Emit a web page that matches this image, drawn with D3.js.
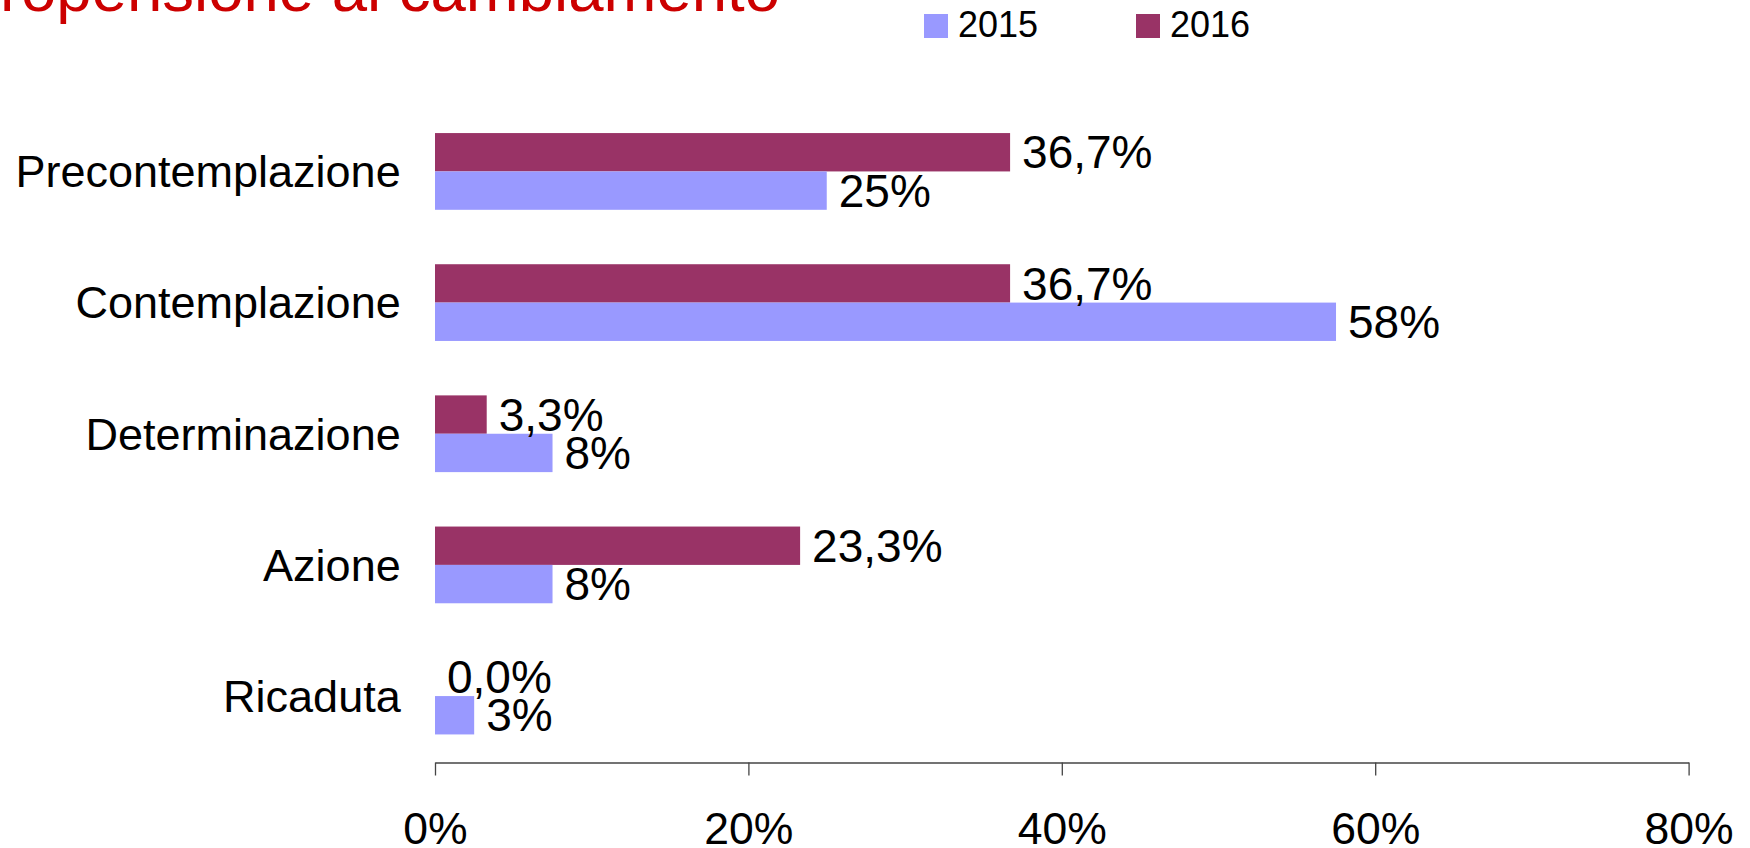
<!DOCTYPE html>
<html>
<head>
<meta charset="utf-8">
<script src="https://cdn.jsdelivr.net/npm/d3@7"></script>
<style>
  body { margin: 0; background: #fff; overflow: hidden; }
  text { font-family: "Liberation Sans", Arial, sans-serif; }
</style>
</head>
<body>
<script>
// data
var categories = ["Precontemplazione", "Contemplazione", "Determinazione", "Azione", "Ricaduta"];
var series = ["2016", "2015"];
var values2015 = [25, 57.5, 7.5, 7.5, 2.5];
var values2016 = [36.7, 36.7, 3.3, 23.3, 0];
var xTicks = [0, 20, 40, 60, 80];
var colors = { "2015": "#9999ff", "2016": "#993366" };

var w = 1750, h = 848;

var svg = d3.select("body").append("svg")
    .attr("width", w)
    .attr("height", h);

// title, cut off at the top left like the source
svg.append("text")
    .attr("x", 780)
    .attr("y", 11)
    .attr("text-anchor", "end")
    .style("font-size", "63.5px")
    .style("fill", "#cc0000")
    .text("Propensione al cambiamento");

var x = d3.scaleLinear()
    .domain([0, 80])
    .range([435, 1688.6]);

var y = d3.scaleBand()
    .domain(categories)
    .range([105, 762.5])
    .paddingInner(0.415)
    .paddingOuter(0.214);

var ySub = d3.scaleBand()
    .domain(series)
    .range([0, y.bandwidth()]);

var rows = categories.map(function (c, i) {
    return { cat: c, "2015": values2015[i], "2016": values2016[i] };
});

var g = svg.selectAll("g.cat")
    .data(rows)
    .enter()
    .append("g")
    .attr("class", "cat")
    .attr("transform", function (d) { return "translate(0," + y(d.cat) + ")"; });

g.selectAll("rect")
    .data(function (d) { return series.map(function (s) { return { s: s, v: d[s] }; }); })
    .enter()
    .append("rect")
    .attr("x", x(0))
    .attr("y", function (d) { return ySub(d.s); })
    .attr("width", function (d) { return x(d.v) - x(0); })
    .attr("height", ySub.bandwidth())
    .attr("fill", function (d) { return colors[d.s]; });

function fmt(d) {
    if (d.s == "2016") return d.v.toFixed(1).replace(".", ",") + "%";
    return Math.round(d.v) + "%";
}

g.selectAll("text.val")
    .data(function (d) { return series.map(function (s) { return { s: s, v: d[s] }; }); })
    .enter()
    .append("text")
    .attr("class", "val")
    .attr("x", function (d) { return x(d.v) + 12; })
    .attr("y", function (d) { return ySub(d.s) + ySub.bandwidth() / 2; })
    .attr("dy", "0.35em")
    .style("font-size", "46px")
    .style("fill", "#000")
    .text(fmt);

// category labels
svg.selectAll("text.cat")
    .data(categories)
    .enter()
    .append("text")
    .attr("class", "cat")
    .attr("x", 400.7)
    .attr("y", function (d) { return y(d) + y.bandwidth() / 2; })
    .attr("dy", "0.35em")
    .attr("text-anchor", "end")
    .style("font-size", "45px")
    .text(function (d) { return d; });

// x axis
var xAxis = d3.axisBottom(x)
    .tickValues(xTicks)
    .tickSize(13)
    .tickPadding(0)
    .tickSizeOuter(0)
    .tickFormat(function (d) { return d + "%"; });

var ax = svg.append("g")
    .attr("transform", "translate(0,762.5)")
    .call(xAxis);

ax.select(".domain").attr("stroke", "#444").attr("stroke-width", 1.3);
ax.selectAll(".tick line").attr("stroke", "#444").attr("stroke-width", 1.3);
ax.selectAll(".tick text")
    .attr("y", 81)
    .attr("dy", 0)
    .style("font-size", "44.5px")
    .style("font-family", "'Liberation Sans', Arial, sans-serif")
    .attr("fill", "#000");

// legend
var legendItems = [
    { s: "2015", x: 924 },
    { s: "2016", x: 1136 }
];
var lg = svg.selectAll("g.legend")
    .data(legendItems)
    .enter()
    .append("g")
    .attr("class", "legend")
    .attr("transform", function (d) { return "translate(" + d.x + ",0)"; });

lg.append("rect")
    .attr("x", 0)
    .attr("y", 14)
    .attr("width", 24)
    .attr("height", 24)
    .attr("fill", function (d) { return colors[d.s]; });

lg.append("text")
    .attr("x", 34)
    .attr("y", 37)
    .style("font-size", "36px")
    .text(function (d) { return d.s; });
</script>
</body>
</html>
